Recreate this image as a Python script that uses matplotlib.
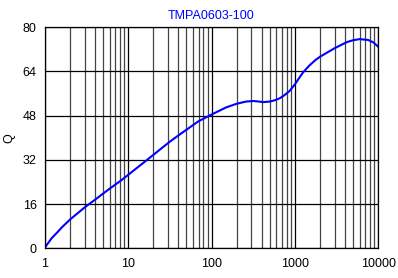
import matplotlib
matplotlib.use("Agg")
import matplotlib.pyplot as plt
from matplotlib.ticker import LogLocator, FixedLocator, NullFormatter

plt.rcParams['font.family'] = ['Liberation Sans', 'DejaVu Sans']

# values
freq = [1, 1.2, 1.4, 1.6, 2, 3, 4, 5, 6, 8, 10, 15, 20, 31, 42, 70, 100,
        150, 200, 260, 320, 370, 420, 500, 580, 660, 750, 870, 1000, 1150,
        1260, 1500, 1750, 2000, 2500, 3000, 4200, 5000, 6000, 7600, 8800,
        10000]
q_vals = [0.3, 3.6, 5.7, 7.6, 10.4, 14.8, 17.6, 19.8, 21.6, 24.3, 26.6,
          30.8, 33.8, 38.4, 41.3, 46.0, 48.4, 51.0, 52.3, 53.1, 53.3, 53.1,
          52.9, 53.1, 53.6, 54.3, 55.4, 57.0, 59.3, 62.0, 63.7, 66.2, 68.0,
          69.3, 71.0, 72.4, 74.6, 75.3, 75.7, 75.4, 74.5, 73.0]
x_ticks = [1, 10, 100, 1000, 10000]
x_labels = ['1', '10', '100', '1000', '10000']
y_ticks = [0, 16, 32, 48, 64, 80]

fig = plt.figure(figsize=(3.98, 2.78), dpi=100)
ax = fig.add_axes([0.113, 0.107, 0.837, 0.795])

ax.plot(freq, q_vals, color='#0000ff', lw=1.5)

ax.set_xscale('log')
ax.set_xlim(1, 10000)
ax.set_ylim(0, 80)
ax.xaxis.set_major_locator(FixedLocator(x_ticks))
ax.set_xticklabels(x_labels)
ax.xaxis.set_minor_locator(LogLocator(base=10, subs=range(2, 10)))
ax.xaxis.set_minor_formatter(NullFormatter())
ax.set_yticks(y_ticks)

ax.grid(True, which='major', color='black', lw=0.9)
ax.grid(True, which='minor', axis='x', color='#444444', lw=0.9)
ax.tick_params(which='both', length=0, labelsize=9)
ax.tick_params(axis='x', pad=7)
ax.tick_params(axis='y', pad=6)
for s in ax.spines.values():
    s.set_color('black')
    s.set_linewidth(0.9)

ax.set_title('TMPA0603-100', color='#0000ff', fontsize=9, pad=6)
ax.set_ylabel('Q', fontsize=9, labelpad=5)

fig.savefig('out.png', dpi=100)
